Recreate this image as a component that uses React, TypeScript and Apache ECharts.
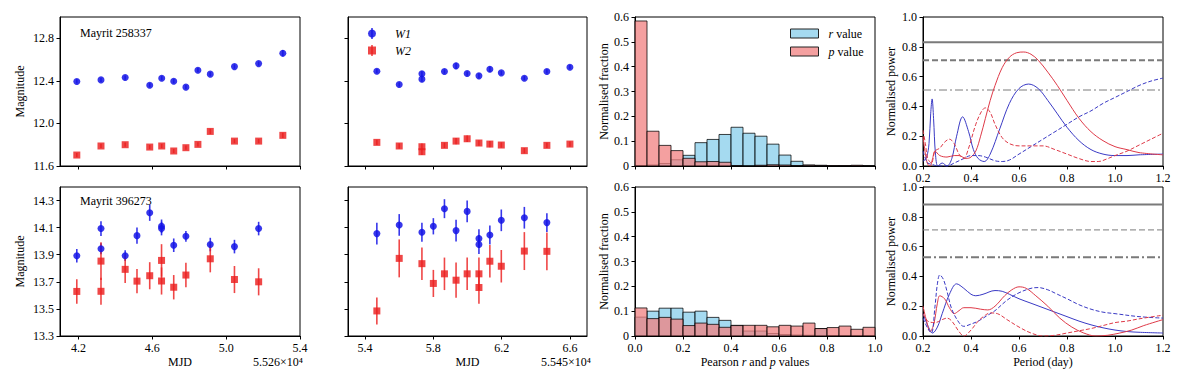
import React, { useEffect, useRef } from 'react';
import * as echarts from 'echarts';

const FONT = 'Liberation Serif, serif';

// ---------- Light-curve data: [MJD offset, magnitude, error] ----------
const a258337W1L = [
  [4.191, 12.394, 0.02], [4.322, 12.409, 0.02], [4.453, 12.431, 0.02], [4.586, 12.359, 0.02],
  [4.651, 12.425, 0.02], [4.716, 12.397, 0.02], [4.782, 12.341, 0.02], [4.847, 12.5, 0.02],
  [4.914, 12.463, 0.02], [5.045, 12.534, 0.02], [5.176, 12.562, 0.02], [5.307, 12.659, 0.03],
];
const a258337W2L = [
  [4.191, 11.703, 0.02], [4.322, 11.788, 0.02], [4.453, 11.8, 0.02], [4.586, 11.778, 0.02],
  [4.651, 11.788, 0.02], [4.716, 11.741, 0.02], [4.782, 11.772, 0.02], [4.847, 11.803, 0.02],
  [4.914, 11.925, 0.025], [5.045, 11.834, 0.02], [5.176, 11.834, 0.02], [5.307, 11.888, 0.025],
];
const a258337W1R = [
  [5.469, 12.491, 0.02], [5.6, 12.366, 0.02], [5.733, 12.466, 0.025], [5.733, 12.416, 0.025],
  [5.865, 12.488, 0.02], [5.933, 12.541, 0.03], [5.998, 12.469, 0.02], [6.067, 12.447, 0.025],
  [6.131, 12.509, 0.025], [6.198, 12.475, 0.02], [6.333, 12.425, 0.02], [6.465, 12.488, 0.02],
  [6.6, 12.528, 0.02],
];
const a258337W2R = [
  [5.469, 11.822, 0.025], [5.6, 11.788, 0.025], [5.733, 11.781, 0.03], [5.733, 11.734, 0.03],
  [5.865, 11.794, 0.025], [5.933, 11.834, 0.03], [5.998, 11.856, 0.03], [6.067, 11.816, 0.025],
  [6.131, 11.806, 0.03], [6.198, 11.797, 0.025], [6.333, 11.744, 0.025], [6.465, 11.794, 0.025],
  [6.6, 11.806, 0.025],
];
const a396273W1L = [
  [4.191, 13.893, 0.05], [4.322, 14.093, 0.055], [4.322, 13.944, 0.04], [4.453, 13.893, 0.04],
  [4.517, 14.041, 0.06], [4.586, 14.21, 0.06], [4.65, 14.11, 0.05], [4.65, 14.093, 0.05],
  [4.716, 13.97, 0.05], [4.782, 14.036, 0.04], [4.914, 13.975, 0.05], [5.045, 13.96, 0.05],
  [5.176, 14.093, 0.05],
];
const a396273W2L = [
  [4.191, 13.629, 0.09], [4.322, 13.853, 0.14], [4.322, 13.63, 0.1], [4.453, 13.792, 0.1],
  [4.517, 13.705, 0.09], [4.586, 13.745, 0.1], [4.65, 13.858, 0.12], [4.65, 13.706, 0.1],
  [4.716, 13.66, 0.09], [4.782, 13.75, 0.09], [4.914, 13.87, 0.1], [5.045, 13.717, 0.1],
  [5.176, 13.7, 0.1],
];
const a396273W1R = [
  [5.469, 14.056, 0.08], [5.6, 14.12, 0.08], [5.733, 14.066, 0.07], [5.8, 14.11, 0.06],
  [5.865, 14.24, 0.07], [5.933, 14.078, 0.08], [5.998, 14.22, 0.08], [6.067, 14.019, 0.07],
  [6.067, 13.975, 0.07], [6.131, 14.046, 0.07], [6.198, 14.154, 0.08], [6.333, 14.173, 0.08],
  [6.465, 14.137, 0.07],
];
const a396273W2R = [
  [5.469, 13.485, 0.1], [5.6, 13.873, 0.14], [5.733, 13.834, 0.12], [5.8, 13.688, 0.1],
  [5.865, 13.759, 0.12], [5.933, 13.712, 0.13], [5.998, 13.759, 0.12], [6.067, 13.759, 0.12],
  [6.067, 13.658, 0.12], [6.131, 13.852, 0.12], [6.198, 13.815, 0.12], [6.333, 13.927, 0.14],
  [6.465, 13.925, 0.14],
];

// ---------- Histograms (20 bins of 0.05 from 0 to 1) ----------
const BIN_WIDTH = 0.05;
const histTopR = [0.002, 0.004, 0.01, 0.025, 0.043, 0.094, 0.107, 0.127, 0.156, 0.132, 0.12, 0.088, 0.044, 0.019, 0.004, 0.003, 0, 0, 0.002, 0];
const histTopP = [0.584, 0.14, 0.083, 0.062, 0.031, 0.017, 0.018, 0.015, 0.002, 0, 0.003, 0.005, 0.004, 0.002, 0.003, 0.001, 0.001, 0.001, 0.003, 0];
const histBotR = [0.076, 0.1, 0.112, 0.112, 0.096, 0.1, 0.075, 0.063, 0.043, 0.02, 0.02, 0.01, 0.006, 0.004, 0.003, 0.03, 0.002, 0.002, 0.001, 0.001];
const histBotP = [0.113, 0.07, 0.075, 0.068, 0.042, 0.052, 0.047, 0.035, 0.042, 0.043, 0.043, 0.037, 0.043, 0.04, 0.052, 0.03, 0.034, 0.04, 0.027, 0.035];

// ---------- Periodograms: [period (day), normalised power] ----------
const pgTopW1 = [[0.2, 0.03], [0.215, 0.06], [0.225, 0.15], [0.232, 0.35], [0.238, 0.45], [0.244, 0.32], [0.252, 0.08], [0.262, 0.0], [0.28, 0.02], [0.3, 0.0], [0.32, 0.05], [0.34, 0.2], [0.365, 0.33], [0.39, 0.23], [0.41, 0.11], [0.43, 0.05], [0.455, 0.03], [0.48, 0.08], [0.52, 0.25], [0.56, 0.42], [0.6, 0.52], [0.64, 0.55], [0.68, 0.52], [0.72, 0.44], [0.76, 0.35], [0.8, 0.26], [0.85, 0.17], [0.9, 0.11], [0.95, 0.08], [1.0, 0.07], [1.05, 0.07], [1.1, 0.075], [1.2, 0.08]];
const pgTopW2 = [[0.2, 0.2], [0.21, 0.08], [0.22, 0.01], [0.23, 0.0], [0.24, 0.05], [0.25, 0.1], [0.27, 0.07], [0.3, 0.06], [0.33, 0.07], [0.35, 0.07], [0.38, 0.05], [0.4, 0.06], [0.42, 0.1], [0.44, 0.2], [0.46, 0.32], [0.48, 0.44], [0.5, 0.54], [0.53, 0.66], [0.56, 0.73], [0.59, 0.76], [0.62, 0.765], [0.65, 0.75], [0.68, 0.71], [0.72, 0.63], [0.76, 0.54], [0.8, 0.44], [0.85, 0.32], [0.9, 0.23], [0.95, 0.17], [1.0, 0.13], [1.05, 0.11], [1.1, 0.09], [1.2, 0.075]];
const pgTopW1d = [[0.2, 0.1], [0.21, 0.05], [0.22, 0.02], [0.24, 0.01], [0.26, 0.0], [0.3, 0.0], [0.33, 0.02], [0.37, 0.05], [0.4, 0.07], [0.43, 0.07], [0.46, 0.06], [0.5, 0.035], [0.53, 0.03], [0.56, 0.04], [0.6, 0.08], [0.65, 0.13], [0.7, 0.18], [0.75, 0.23], [0.8, 0.28], [0.85, 0.33], [0.9, 0.37], [0.95, 0.42], [1.0, 0.46], [1.05, 0.5], [1.1, 0.54], [1.15, 0.57], [1.2, 0.59]];
const pgTopW2d = [[0.2, 0.24], [0.21, 0.15], [0.22, 0.05], [0.235, 0.02], [0.25, 0.1], [0.27, 0.12], [0.29, 0.16], [0.31, 0.18], [0.33, 0.15], [0.35, 0.08], [0.37, 0.05], [0.39, 0.12], [0.42, 0.28], [0.445, 0.37], [0.46, 0.39], [0.48, 0.36], [0.5, 0.28], [0.53, 0.19], [0.56, 0.15], [0.6, 0.135], [0.65, 0.135], [0.7, 0.135], [0.75, 0.11], [0.8, 0.08], [0.85, 0.05], [0.9, 0.03], [0.93, 0.03], [0.97, 0.05], [1.0, 0.07], [1.05, 0.1], [1.1, 0.14], [1.15, 0.18], [1.2, 0.22]];
const pgBotW1 = [[0.2, 0.15], [0.22, 0.07], [0.24, 0.02], [0.26, 0.06], [0.28, 0.15], [0.31, 0.28], [0.34, 0.35], [0.37, 0.32], [0.4, 0.28], [0.42, 0.27], [0.45, 0.28], [0.5, 0.305], [0.53, 0.3], [0.56, 0.28], [0.6, 0.25], [0.65, 0.22], [0.7, 0.19], [0.75, 0.16], [0.8, 0.13], [0.85, 0.1], [0.9, 0.075], [0.95, 0.055], [1.0, 0.04], [1.05, 0.03], [1.1, 0.025], [1.2, 0.02]];
const pgBotW2 = [[0.2, 0.2], [0.215, 0.1], [0.23, 0.03], [0.245, 0.08], [0.26, 0.22], [0.27, 0.27], [0.29, 0.25], [0.31, 0.19], [0.33, 0.15], [0.35, 0.17], [0.37, 0.19], [0.4, 0.19], [0.44, 0.18], [0.47, 0.175], [0.5, 0.2], [0.54, 0.27], [0.57, 0.31], [0.6, 0.33], [0.63, 0.32], [0.67, 0.27], [0.72, 0.2], [0.77, 0.12], [0.82, 0.06], [0.87, 0.02], [0.92, 0.0], [0.97, 0.005], [1.02, 0.02], [1.07, 0.04], [1.12, 0.07], [1.2, 0.11]];
const pgBotW1d = [[0.2, 0.12], [0.22, 0.05], [0.235, 0.02], [0.25, 0.2], [0.26, 0.35], [0.27, 0.41], [0.285, 0.38], [0.3, 0.3], [0.32, 0.18], [0.35, 0.09], [0.37, 0.065], [0.4, 0.08], [0.43, 0.1], [0.47, 0.14], [0.5, 0.17], [0.55, 0.24], [0.6, 0.29], [0.65, 0.32], [0.68, 0.325], [0.72, 0.31], [0.76, 0.28], [0.8, 0.25], [0.85, 0.21], [0.9, 0.18], [0.95, 0.16], [1.0, 0.15], [1.1, 0.13], [1.2, 0.12]];
const pgBotW2d = [[0.2, 0.15], [0.22, 0.1], [0.25, 0.09], [0.28, 0.11], [0.3, 0.12], [0.32, 0.1], [0.35, 0.03], [0.37, 0.0], [0.4, 0.04], [0.43, 0.1], [0.46, 0.14], [0.48, 0.155], [0.51, 0.15], [0.55, 0.11], [0.6, 0.06], [0.65, 0.02], [0.7, 0.0], [0.75, 0.005], [0.8, 0.02], [0.85, 0.035], [0.9, 0.05], [0.95, 0.07], [1.0, 0.09], [1.05, 0.1], [1.1, 0.115], [1.2, 0.14]];

// significance levels: [solid, dashed, dash-dot]
const sigTop = [0.83, 0.71, 0.51];
const sigBot = [0.883, 0.712, 0.528];

// tick values
const xTicksL = [4.2, 4.6, 5.0, 5.4];
const xTicksR = [5.4, 5.8, 6.2, 6.6];
const yTicksTop = [11.6, 12.0, 12.4, 12.8];
const yTicksBot = [13.3, 13.5, 13.7, 13.9, 14.1, 14.3];

const BLUE = 'rgba(20,20,230,0.85)';
const RED = 'rgba(235,30,30,0.82)';
const HIST_R = 'rgba(135,206,235,0.75)';
const HIST_P = 'rgba(240,128,128,0.75)';
const PG_BLUE = '#3a3ac4';
const PG_RED = '#de3a48';
const GRAY = '#7a7a7a';

const GL = [60, 348, 635, 923];
const GW = [240, 239, 240, 240];
const GT = [17, 187];
const GH = 149;

const baseText = { fontFamily: FONT, fontSize: 12, color: '#000' };

export default function App() {
  const ref = useRef<HTMLDivElement>(null);
  useEffect(() => {
    if (!ref.current) return;
    const chart = echarts.init(ref.current, null, { renderer: 'svg' });

    const grid: any[] = [];
    const xAxis: any[] = [];
    const yAxis: any[] = [];
    const series: any[] = [];

    const axisCommon = {
      axisLine: { show: true, onZero: false, lineStyle: { color: '#000', width: 1 } },
      axisTick: { show: true, inside: false, length: 3.5, lineStyle: { color: '#000', width: 1 } },
      splitLine: { show: false },
    };

    for (let r = 0; r < 2; r++) {
      for (let c = 0; c < 4; c++) {
        grid.push({ left: GL[c], top: GT[r], width: GW[c], height: GH, show: true, borderColor: '#000', borderWidth: 1 });
        const bottom = r === 1;
        if (c === 0 || c === 1) {
          const ticks = c === 0 ? xTicksL : xTicksR;
          xAxis.push({
            type: 'value', gridIndex: r * 4 + c, min: c === 0 ? 4.1 : 5.3, max: c === 0 ? 5.4 : 6.7,
            ...axisCommon,
            axisTick: { ...axisCommon.axisTick, customValues: ticks },
            axisLabel: { show: bottom, customValues: ticks, formatter: (v: number) => v.toFixed(1), margin: 6, ...baseText },
            name: bottom ? 'MJD' : '', nameLocation: 'middle', nameGap: 20, nameTextStyle: { ...baseText, fontSize: 12 },
          });
        } else if (c === 2) {
          xAxis.push({
            type: 'value', gridIndex: r * 4 + c, min: 0, max: 1, interval: 0.2,
            ...axisCommon,
            axisLabel: { show: bottom, formatter: (v: number) => v.toFixed(1), margin: 6, showMinLabel: true, showMaxLabel: true, ...baseText },
            name: bottom ? '{n|Pearson }{i|r}{n| and }{i|p}{n| values}' : '', nameLocation: 'middle', nameGap: 20,
            nameTextStyle: { ...baseText, fontSize: 12, rich: { n: { fontFamily: FONT, fontSize: 12 }, i: { fontFamily: FONT, fontSize: 12, fontStyle: 'italic' } } },
          });
        } else {
          xAxis.push({
            type: 'value', gridIndex: r * 4 + c, min: 0.2, max: 1.2, interval: 0.2,
            ...axisCommon,
            axisLabel: { show: true, formatter: (v: number) => v.toFixed(1), margin: 6, showMinLabel: true, showMaxLabel: true, ...baseText },
            name: bottom ? 'Period (day)' : '', nameLocation: 'middle', nameGap: 20, nameTextStyle: { ...baseText, fontSize: 12 },
          });
        }
        if (c === 0 || c === 1) {
          const ticks = bottom ? yTicksBot : yTicksTop;
          yAxis.push({
            type: 'value', gridIndex: r * 4 + c, min: bottom ? 13.3 : 11.6, max: bottom ? 14.4 : 13.0,
            ...axisCommon,
            axisTick: { ...axisCommon.axisTick, customValues: ticks },
            axisLabel: { show: c === 0, customValues: ticks, formatter: (v: number) => v.toFixed(1), margin: 6, ...baseText },
            name: c === 0 ? 'Magnitude' : '', nameLocation: 'middle', nameGap: 34, nameTextStyle: { ...baseText, fontSize: 12 },
          });
        } else if (c === 2) {
          yAxis.push({
            type: 'value', gridIndex: r * 4 + c, min: 0, max: 0.6, interval: 0.1,
            ...axisCommon,
            axisLabel: { show: true, formatter: (v: number) => (v === 0 ? '0' : v.toFixed(1)), margin: 6, showMinLabel: true, showMaxLabel: true, ...baseText },
            name: 'Normalised fraction', nameLocation: 'middle', nameGap: 24, nameTextStyle: { ...baseText, fontSize: 12 },
          });
        } else {
          yAxis.push({
            type: 'value', gridIndex: r * 4 + c, min: 0, max: 1, interval: 0.2,
            ...axisCommon,
            axisLabel: { show: true, formatter: (v: number) => v.toFixed(1), margin: 6, showMinLabel: true, showMaxLabel: true, ...baseText },
            name: 'Normalised power', nameLocation: 'middle', nameGap: 26, nameTextStyle: { ...baseText, fontSize: 12 },
          });
        }
      }
    }

    const addLightCurve = (idx: number, data: number[][], color: string, symbol: string, name: string) => {
      series.push({
        type: 'custom', name, xAxisIndex: idx, yAxisIndex: idx, data, encode: { x: 0, y: 1 }, z: 2,
        itemStyle: { color },
        renderItem: (_p: any, api: any) => {
          const x = api.value(0), y = api.value(1), e = api.value(2);
          const a = api.coord([x, y - e]);
          const b = api.coord([x, y + e]);
          return { type: 'line', shape: { x1: a[0], y1: a[1], x2: b[0], y2: b[1] }, style: { stroke: color, lineWidth: 1.6 } };
        },
      });
      series.push({
        type: 'scatter', name, xAxisIndex: idx, yAxisIndex: idx, symbol, symbolSize: 7, z: 3,
        data: data.map((d) => [d[0], d[1]]),
        itemStyle: { color, opacity: 1 },
      });
    };

    addLightCurve(0, a258337W1L, BLUE, 'circle', 'W1');
    addLightCurve(0, a258337W2L, RED, 'rect', 'W2');
    addLightCurve(1, a258337W1R, BLUE, 'circle', 'W1');
    addLightCurve(1, a258337W2R, RED, 'rect', 'W2');
    addLightCurve(4, a396273W1L, BLUE, 'circle', 'W1');
    addLightCurve(4, a396273W2L, RED, 'rect', 'W2');
    addLightCurve(5, a396273W1R, BLUE, 'circle', 'W1');
    addLightCurve(5, a396273W2R, RED, 'rect', 'W2');

    const addHist = (idx: number, vals: number[], fill: string, name: string, z: number) => {
      series.push({
        type: 'custom', name, xAxisIndex: idx, yAxisIndex: idx, z,
        data: vals.map((v, i) => [i * BIN_WIDTH, (i + 1) * BIN_WIDTH, v]),
        encode: { x: [0, 1], y: 2 },
        itemStyle: { color: fill, borderColor: 'rgba(0,0,0,0.8)', borderWidth: 1 },
        renderItem: (_p: any, api: any) => {
          const p0 = api.coord([api.value(0), 0]);
          const p1 = api.coord([api.value(1), api.value(2)]);
          return {
            type: 'rect',
            shape: { x: p0[0], y: p1[1], width: p1[0] - p0[0], height: p0[1] - p1[1] },
            style: { fill, stroke: 'rgba(0,0,0,0.75)', lineWidth: 1 },
          };
        },
      });
    };
    addHist(2, histTopR, HIST_R, 'r value', 2);
    addHist(2, histTopP, HIST_P, 'p value', 3);
    addHist(6, histBotR, HIST_R, 'r value', 2);
    addHist(6, histBotP, HIST_P, 'p value', 3);

    const addSig = (idx: number, levels: number[], widths: number[]) => {
      const types: any[] = ['solid', [6, 3], [8, 3, 2, 3]];
      levels.forEach((lv, k) => {
        series.push({
          type: 'line', xAxisIndex: idx, yAxisIndex: idx, symbol: 'none', silent: true,
          data: [[0.2, lv], [1.2, lv]],
          lineStyle: { color: GRAY, width: widths[k], type: types[k] },
        });
      });
    };
    addSig(3, sigTop, [2, 2, 1]);
    addSig(7, sigBot, [2, 1, 2]);

    const addPg = (idx: number, data: number[][], color: string, dashed: boolean) => {
      series.push({
        type: 'line', xAxisIndex: idx, yAxisIndex: idx, symbol: 'none', smooth: 0.35, clip: true,
        data, lineStyle: { color, width: 1, type: dashed ? [4, 2] : 'solid' },
      });
    };
    addPg(3, pgTopW1, PG_BLUE, false);
    addPg(3, pgTopW2, PG_RED, false);
    addPg(3, pgTopW1d, PG_BLUE, true);
    addPg(3, pgTopW2d, PG_RED, true);
    addPg(7, pgBotW1, PG_BLUE, false);
    addPg(7, pgBotW2, PG_RED, false);
    addPg(7, pgBotW1d, PG_BLUE, true);
    addPg(7, pgBotW2d, PG_RED, true);

    chart.setOption({
      animation: false,
      textStyle: { fontFamily: FONT },
      grid, xAxis, yAxis, series,
      legend: [
        {
          orient: 'vertical', left: 368, top: 27, padding: 0, itemWidth: 8, itemHeight: 8, itemGap: 4,
          selectedMode: false,
          data: [
            { name: 'W1', icon: 'circle', itemStyle: { color: BLUE } },
            { name: 'W2', icon: 'rect', itemStyle: { color: RED } },
          ],
          textStyle: { ...baseText, fontSize: 12, fontStyle: 'italic', lineHeight: 13, padding: [0, 0, 0, 14] },
        },
        {
          orient: 'vertical', left: 790, top: 27, padding: 0, itemWidth: 28, itemHeight: 9, itemGap: 5,
          selectedMode: false,
          data: [
            { name: 'r value', icon: 'rect', itemStyle: { color: HIST_R, borderColor: '#222', borderWidth: 1 } },
            { name: 'p value', icon: 'rect', itemStyle: { color: HIST_P, borderColor: '#222', borderWidth: 1 } },
          ],
          formatter: (n: string) => (n === 'r value' ? '{i|r}{n| value}' : '{i|p}{n| value}'),
          textStyle: {
            ...baseText, lineHeight: 13, padding: [0, 0, 0, 5],
            rich: { i: { fontFamily: FONT, fontSize: 12, fontStyle: 'italic' }, n: { fontFamily: FONT, fontSize: 12 } },
          },
        },
      ],
      graphic: [
        { type: 'line', shape: { x1: 372, y1: 28, x2: 372, y2: 39 }, style: { stroke: BLUE, lineWidth: 1.6 }, z: 100 },
        { type: 'line', shape: { x1: 372, y1: 45, x2: 372, y2: 56 }, style: { stroke: RED, lineWidth: 1.6 }, z: 100 },
        { type: 'text', left: 80, top: 27, style: { text: 'Mayrit 258337', font: `12px ${FONT}`, fill: '#000' } },
        { type: 'text', left: 80, top: 195, style: { text: 'Mayrit 396273', font: `12px ${FONT}`, fill: '#000' } },
        { type: 'text', right: 1200 - 303, top: 356, style: { text: '5.526×10⁴', font: `12px ${FONT}`, fill: '#000' } },
        { type: 'text', right: 1200 - 591, top: 356, style: { text: '5.545×10⁴', font: `12px ${FONT}`, fill: '#000' } },
      ],
    });

    return () => chart.dispose();
  }, []);

  return <div ref={ref} style={{ position: 'fixed', left: 0, top: 0, width: 1200, height: 378, background: '#fff' }} />;
}
